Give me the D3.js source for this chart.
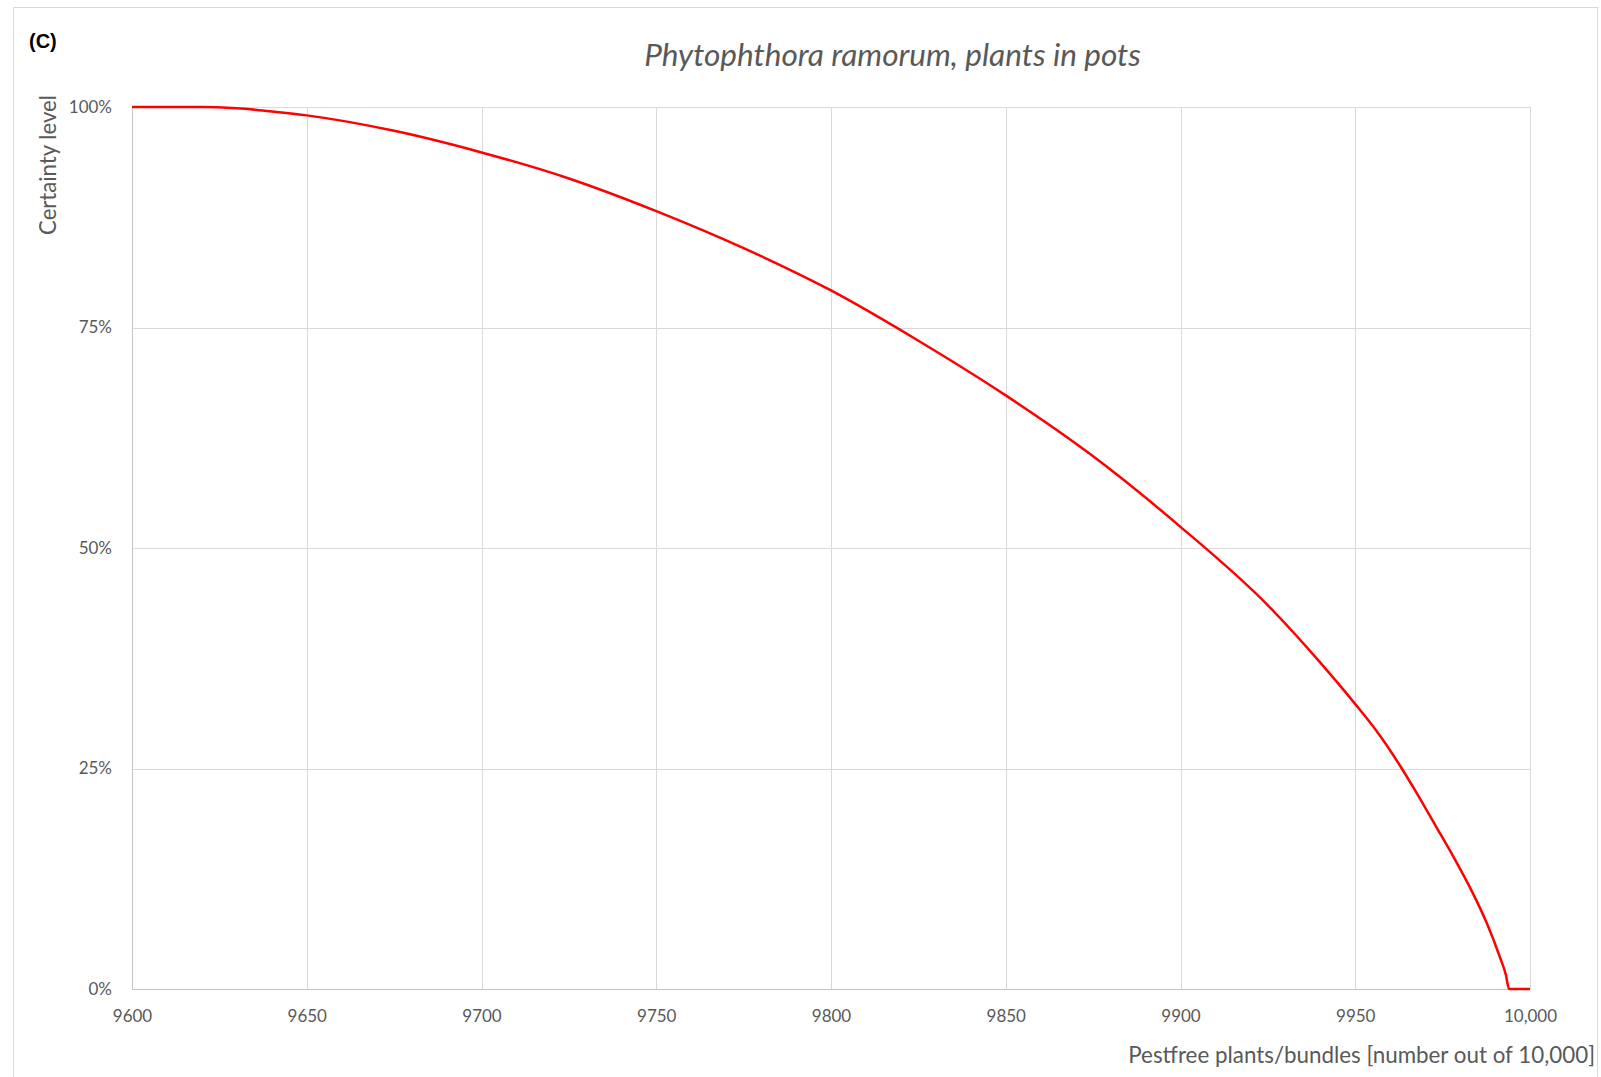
<!DOCTYPE html>
<html>
<head>
<meta charset="utf-8">
<script src="https://cdn.jsdelivr.net/npm/d3@7"></script>
<style>
  html, body { margin: 0; padding: 0; background: #fff; }
  svg { display: block; }
  text { font-family: Lato, "Open Sans", sans-serif; }
</style>
</head>
<body>
<svg id="chart" width="1601" height="1077"></svg>
<script>
// ---- data ----
const panelLabel = "(C)";
const titleText = "Phytophthora ramorum, plants in pots";
const yAxisTitle = "Certainty level";
const xAxisTitle = "Pestfree plants/bundles [number out of 10,000]";

const xTicks = [9600, 9650, 9700, 9750, 9800, 9850, 9900, 9950, 10000];
const xTickLabels = ["9600", "9650", "9700", "9750", "9800", "9850", "9900", "9950", "10,000"];
const yTicks = [0, 25, 50, 75, 100];
const yTickLabels = ["0%", "25%", "50%", "75%", "100%"];

const pestfree = [9600, 9610, 9620, 9630, 9640, 9650, 9675, 9700, 9725, 9750, 9775, 9800, 9825, 9850, 9875, 9900, 9925, 9940, 9950, 9956, 9963, 9967, 9973, 9978.5, 9983.6, 9987.6, 9991.4, 9993.1, 9994, 10000];
const certainty = [100, 100, 100, 99.85, 99.5, 99.05, 97.3, 94.85, 91.9, 88.2, 84.0, 79.2, 73.5, 67.3, 60.4, 52.4, 43.5, 37.0, 32.3, 29.3, 25.2, 22.6, 18.5, 14.7, 10.9, 7.5, 3.6, 1.6, 0, 0];

// ---- layout ----
const svg = d3.select("#chart");
const plot = { left: 132, right: 1530, top: 107, bottom: 989 };
const x = d3.scaleLinear().domain([9600, 10000]).range([plot.left, plot.right]);
const y = d3.scaleLinear().domain([0, 100]).range([plot.bottom, plot.top]);

svg.append("rect").attr("width", 1601).attr("height", 1077).attr("fill", "#fff");
// chart frame
svg.append("rect")
  .attr("x", 13.5).attr("y", 7.5).attr("width", 1584).attr("height", 1090)
  .attr("fill", "none").attr("stroke", "#d9d9d9").attr("stroke-width", 1);

function fit(sel, target) {
  const w = sel.node().getComputedTextLength();
  const fs = parseFloat(sel.style("font-size"));
  sel.style("font-size", (fs * target / w) + "px");
}

// gridlines
const gx = svg.append("g").attr("transform", `translate(0,${plot.bottom})`)
  .call(d3.axisBottom(x).tickValues(xTicks).tickSize(-(plot.bottom - plot.top)).tickFormat(""));
gx.select(".domain").remove();
gx.selectAll("line").attr("stroke", "#d9d9d9").attr("shape-rendering", "crispEdges");

const gy = svg.append("g").attr("transform", `translate(${plot.left},0)`)
  .call(d3.axisLeft(y).tickValues(yTicks).tickSize(-(plot.right - plot.left)).tickFormat(""));
gy.select(".domain").remove();
gy.selectAll("line").attr("stroke", "#d9d9d9").attr("shape-rendering", "crispEdges");

// axis lines
svg.append("line").attr("x1", plot.left).attr("x2", plot.right).attr("y1", plot.bottom).attr("y2", plot.bottom)
  .attr("stroke", "#c4c4c4").attr("shape-rendering", "crispEdges");
svg.append("line").attr("x1", plot.left).attr("x2", plot.left).attr("y1", plot.top).attr("y2", plot.bottom)
  .attr("stroke", "#c4c4c4").attr("shape-rendering", "crispEdges");

// tick labels
const ax = svg.append("g").attr("transform", `translate(0,${plot.bottom})`)
  .call(d3.axisBottom(x).tickValues(xTicks).tickSize(0).tickPadding(21).tickFormat((d, i) => xTickLabels[i]));
ax.select(".domain").remove();
ax.selectAll("text").attr("fill", "#595959").style("font-size", "17px").style("font-family", "Lato, sans-serif");

const ay = svg.append("g").attr("transform", `translate(${plot.left},0)`)
  .call(d3.axisLeft(y).tickValues(yTicks).tickSize(0).tickPadding(20).tickFormat((d, i) => yTickLabels[i]));
ay.select(".domain").remove();
ay.selectAll("text").attr("fill", "#595959").style("font-size", "17px").style("font-family", "Lato, sans-serif");

// line
const pts = pestfree.map((v, i) => [v, certainty[i]]);
svg.append("path")
  .datum(pts)
  .attr("fill", "none")
  .attr("stroke", "#ff0000")
  .attr("stroke-width", 2.5)
  .attr("stroke-linejoin", "round")
  .attr("d", d3.line().x(d => x(d[0])).y(d => y(d[1])).curve(d3.curveMonotoneX));

// texts
svg.append("text").attr("x", 29).attr("y", 47.5)
  .style("font-family", "'Liberation Sans', Arial, sans-serif")
  .style("font-weight", "bold").style("font-size", "20px").attr("fill", "#000")
  .text(panelLabel);

const t = svg.append("text").attr("x", 892.5).attr("y", 65.5)
  .attr("text-anchor", "middle").attr("fill", "#595959")
  .style("font-style", "italic").style("font-size", "28px")
  .text(titleText);
fit(t, 497);

const yl = svg.append("text")
  .attr("transform", "translate(56,165) rotate(-90)")
  .attr("text-anchor", "middle").attr("fill", "#595959")
  .style("font-size", "20px")
  .text(yAxisTitle);
fit(yl, 140);

const xl = svg.append("text").attr("x", 1595).attr("y", 1063)
  .attr("text-anchor", "end").attr("fill", "#595959")
  .style("font-size", "21px")
  .text(xAxisTitle);
fit(xl, 467);
</script>
</body>
</html>
